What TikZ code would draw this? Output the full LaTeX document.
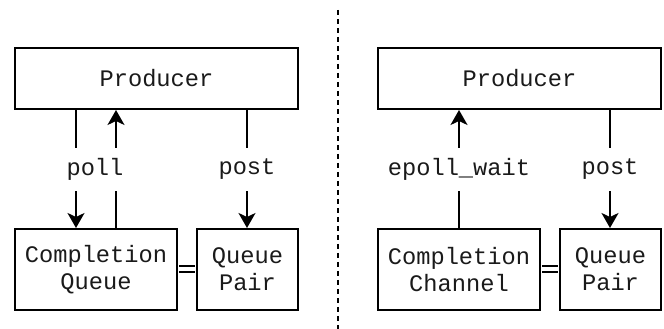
\documentclass[tikz,border=0pt]{standalone}
\usepackage{fontspec}
\usepackage{xcolor}
\newfontfamily\couriermono{Liberation Mono}
\usetikzlibrary{arrows.meta}
\definecolor{vblack}{HTML}{000000}
\definecolor{vtext}{HTML}{1A1A1A}
\tikzset{
	block/.style={draw=vblack, line width=2pt, inner sep=0pt, align=center, text=vtext,
		font={\couriermono\fontsize{23.7}{27}\selectfont}},
	callname/.style={inner sep=0pt, minimum height=43pt, text=vtext,
		font={\couriermono\fontsize{23.7}{27}\selectfont}},
	wire/.style={draw=vblack, line width=2pt},
	tipped/.style={wire, -{Stealth[length=15pt, width=17pt, inset=4pt]}},
	pairlink/.style={draw=vblack, line width=2pt, double=white, double distance=4pt, shorten <=1pt, shorten >=1pt}
}

\begin{document}
\begin{tikzpicture}[x=1pt, y=1pt]
		\useasboundingbox (0,0) rectangle (664,329);
		% left: completion queue
		\node[block, minimum width=283pt, minimum height=61pt] (prodL) at (156.5,250.5) {Producer};
		\node[block, minimum width=162pt, minimum height=81pt] (cq) at (96,59.5) {Completion\\Queue};
		\node[block, minimum width=101pt, minimum height=81pt] (qpL) at (247.5,59.5) {Queue\\Pair};
		\node[callname] (poll) at (95,159.5) {poll};
		\node[callname] (postL) at (247,159.5) {post};
		\coordinate (colDn) at (76,0);
		\coordinate (colUp) at (116,0);
		\draw[wire] (prodL.south -| colDn) -- (poll.north -| colDn);
		\draw[tipped] (poll.south -| colDn) -- (cq.north -| colDn);
		\draw[wire] (cq.north -| colUp) -- (poll.south -| colUp);
		\draw[tipped] (poll.north -| colUp) -- (prodL.south -| colUp);
		\draw[wire] (prodL.south -| postL) -- (postL.north);
		\draw[tipped] (postL.south) -- (qpL.north -| postL);
		\draw[pairlink] (cq) -- (qpL);
		% divider
		\draw[vblack, line width=2pt, dash pattern=on 5pt off 4pt] (338,319) -- (338,0);
		% right: completion channel
		\node[block, minimum width=283pt, minimum height=61pt] (prodR) at (519.5,250.5) {Producer};
		\node[block, minimum width=162pt, minimum height=81pt] (cc) at (459,59.5) {Completion\\Channel};
		\node[block, minimum width=101pt, minimum height=81pt] (qpR) at (610.5,59.5) {Queue\\Pair};
		\node[callname] (wait) at (459,159.5) {epoll\_wait};
		\node[callname] (postR) at (610,159.5) {post};
		\draw[wire] (cc.north -| wait) -- (wait.south);
		\draw[tipped] (wait.north) -- (prodR.south -| wait);
		\draw[wire] (prodR.south -| postR) -- (postR.north);
		\draw[tipped] (postR.south) -- (qpR.north -| postR);
		\draw[pairlink] (cc) -- (qpR);
	\end{tikzpicture}
\end{document}
